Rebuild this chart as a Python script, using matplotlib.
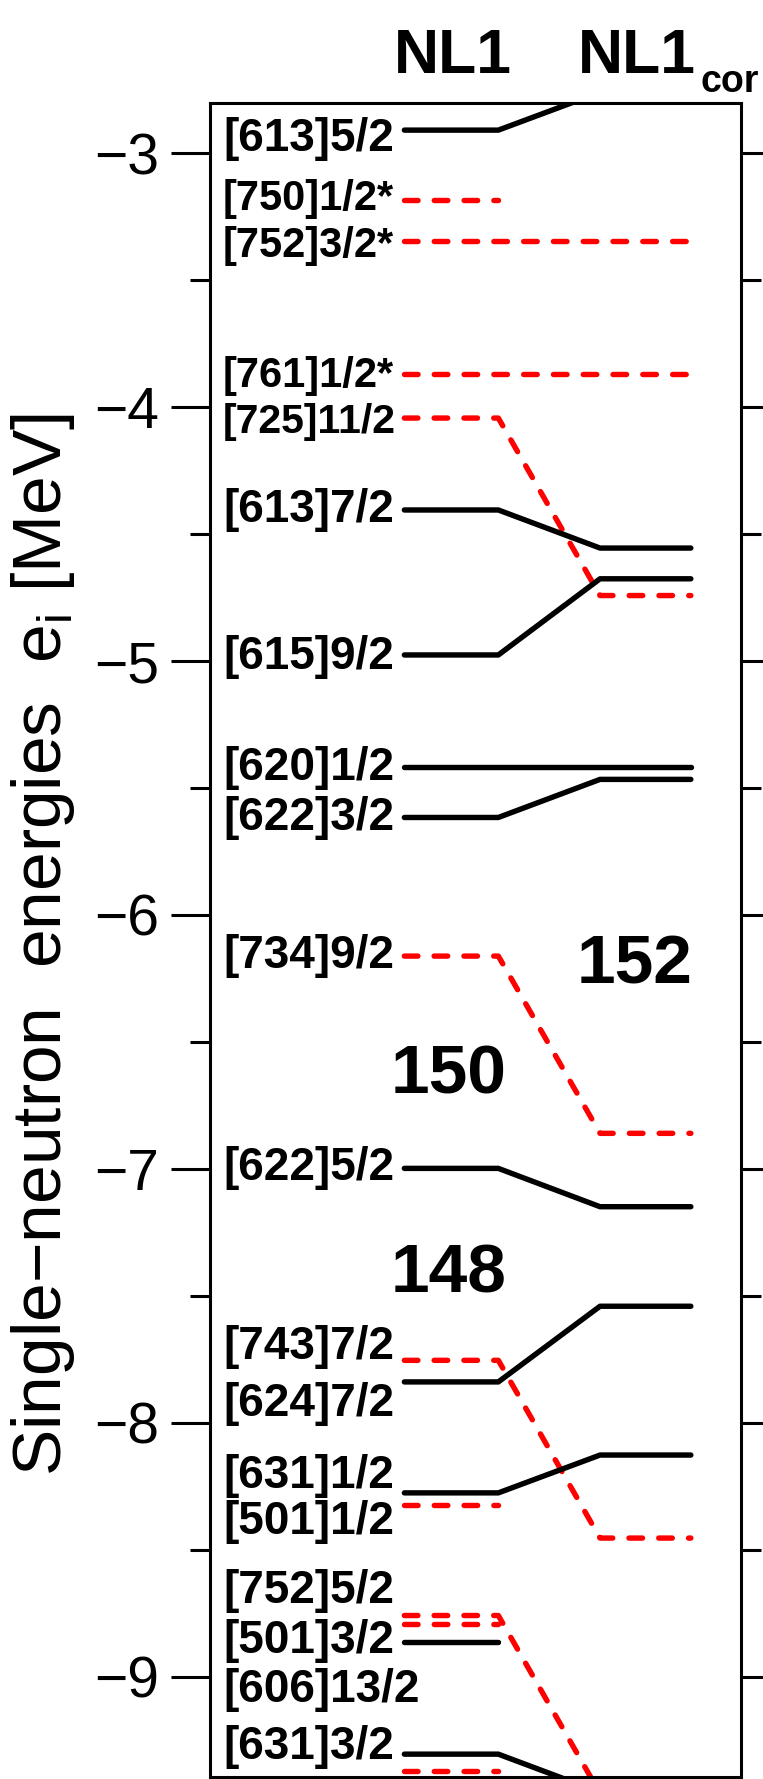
import matplotlib
matplotlib.use('Agg')
import matplotlib.pyplot as plt
from matplotlib.ticker import MultipleLocator

plt.rcParams['font.family'] = ['Liberation Sans', 'DejaVu Sans']
plt.rcParams['mathtext.fontset'] = 'custom'
plt.rcParams['mathtext.rm'] = 'Liberation Sans'

# Nilsson 준위 이름, 패리티, NL1 / NL1_cor 에너지 (MeV)
names = ['[613]5/2', '[750]1/2*', '[752]3/2*', '[761]1/2*', '[725]11/2',
         '[613]7/2', '[615]9/2', '[620]1/2', '[622]3/2', '[734]9/2',
         '[622]5/2', '[743]7/2', '[624]7/2', '[631]1/2', '[501]1/2',
         '[752]5/2', '[501]3/2', '[606]13/2', '[631]3/2', '']
parity = ['+', '-', '-', '-', '-', '+', '+', '+', '+', '-',
          '+', '-', '+', '+', '-', '-', '-', '+', '+', '-']
e_nl1 = [-2.909, -3.186, -3.347, -3.871, -4.043, -4.405, -4.976, -5.416,
         -5.616, -6.162, -6.998, -7.754, -7.839, -8.276, -8.323, -8.759,
         -8.793, -8.864, -9.305, -9.372]
e_cor = [-2.76, None, -3.347, -3.871, -4.742, -4.555, -4.676, -5.416,
         -5.466, -6.860, -7.149, -8.454, -7.541, -8.127, None, -9.46,
         None, None, -9.455, None]
# 라벨 글자 기준선 위치 (MeV)
label_e = [-2.993, -3.223, -3.407, -3.919, -4.100, -4.454, -5.031, -5.468,
           -5.664, -6.207, -7.043, -7.748, -7.974, -8.257, -8.439, -8.708,
           -8.905, -9.10, -9.325, -9.6]

# 마법수 (shell gaps)
magic = ['152', '150', '148']
magic_x = [0.800, 0.450, 0.450]
magic_e = [-6.268, -6.705, -7.485]

# 칸 위치 (axes 비율)
x_left = (0.3660, 0.5430)
x_right = (0.7345, 0.9055)

fig = plt.figure(figsize=(7.63, 17.79), dpi=100)
ax = fig.add_axes([0.2752, 0.00112, 0.6960, 0.94115])
ax.set_xlim(0, 1)
ax.set_ylim(-9.395, -2.801)
renderer = fig.canvas.get_renderer()

# 선 시작점 (픽셀) - 라벨이 선과 겹치지 않게
line_start_px = ax.transData.transform((x_left[0], 0))[0]

for name, p, el, er, le in zip(names, parity, e_nl1, e_cor, label_e):
    if er is None:
        xs = [x_left[0], x_left[1]]
        ys = [el, el]
    else:
        xs = [x_left[0], x_left[1], x_right[0], x_right[1]]
        ys = [el, el, er, er]
    if p == '-':
        ax.plot(xs, ys, color='#ff0000', lw=3.9, dashes=(2.5, 3.0),
                dash_capstyle='round', dash_joinstyle='round')
    else:
        ax.plot(xs, ys, color='black', lw=3.9,
                solid_capstyle='round', solid_joinstyle='round')
    if name:
        t = ax.text(0.0245, le, name, fontsize=33, fontweight='bold',
                    ha='left', va='baseline', clip_on=True)
        # 라벨 높이 안에 선이 있으면 폭을 줄임
        bb = t.get_window_extent(renderer)
        y0 = ax.transData.inverted().transform((0, bb.y0))[1]
        y1 = ax.transData.inverted().transform((0, bb.y1))[1]
        if any(y0 < e < y1 for e in e_nl1):
            fs = 33
            while bb.x1 > line_start_px - 8 and fs > 20:
                fs -= 0.5
                t.set_fontsize(fs)
                bb = t.get_window_extent(renderer)

for m, mx, me in zip(magic, magic_x, magic_e):
    ax.text(mx, me, m, fontsize=50, fontweight='bold', ha='center', va='baseline')

# 축 설정
ax.yaxis.set_minor_locator(MultipleLocator(0.5))
ax.set_yticks([-3, -4, -5, -6, -7, -8, -9])
ax.set_yticklabels(['\u22123', '\u22124', '\u22125', '\u22126', '\u22127', '\u22128', '\u22129'])
ax.tick_params(axis='y', which='both', direction='out', left=True, right=True,
               width=2.2, labelsize=41, pad=8.6)
ax.tick_params(axis='y', which='major', length=28)
ax.tick_params(axis='y', which='minor', length=14.4)
ax.set_xticks([])
for s in ax.spines.values():
    s.set_linewidth(2.2)

fig.text(0.056, 0.469, 'Single\u2212neutron  energies  e$_\\mathregular{i}$ [MeV]',
         rotation=90, fontsize=50, ha='center', va='center')

fig.text(0.5937, 0.95913, 'NL1', fontsize=45, fontweight='bold', ha='center', va='baseline')
fig.text(0.8342, 0.95913, 'NL1', fontsize=45, fontweight='bold', ha='center', va='baseline')
fig.text(0.9185, 0.94829, 'cor', fontsize=27, fontweight='bold', ha='left', va='baseline')

fig.savefig('out.png', dpi=100)
